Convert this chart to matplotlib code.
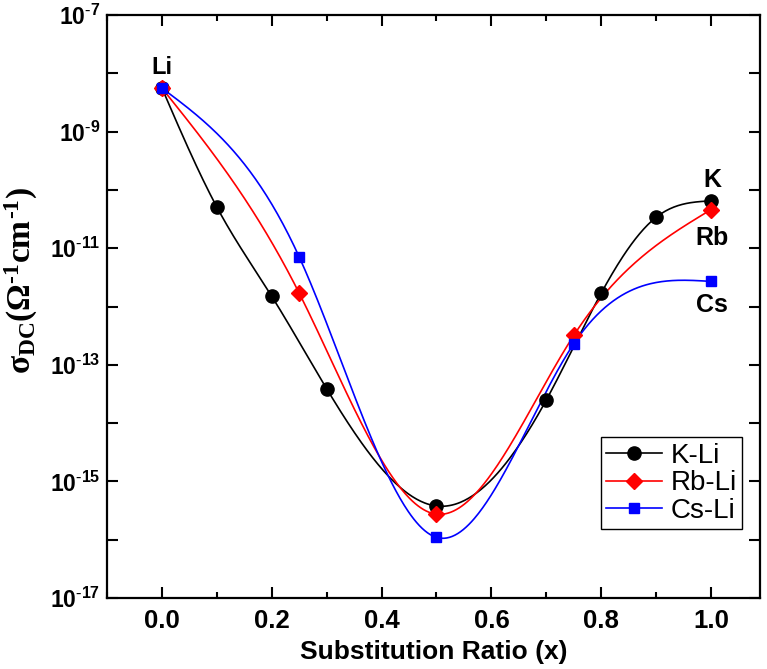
import numpy as np
import matplotlib
matplotlib.use("Agg")
import matplotlib.pyplot as plt
from matplotlib.ticker import FixedLocator, MultipleLocator

plt.rcParams['font.family'] = ['Liberation Sans', 'DejaVu Sans']
plt.rcParams['mathtext.fontset'] = 'custom'
plt.rcParams['mathtext.rm'] = 'Liberation Serif:bold'
plt.rcParams['mathtext.it'] = 'Liberation Serif:bold'
plt.rcParams['mathtext.bf'] = 'Liberation Serif:bold'
plt.rcParams['mathtext.sf'] = 'Liberation Sans:bold'

# Data (sigma_DC, Ohm^-1 cm^-1)
x_k = [0.0, 0.1, 0.2, 0.3, 0.5, 0.7, 0.8, 0.9, 1.0]
y_k = [5.6e-9, 5.1e-11, 1.5e-12, 3.9e-14, 3.8e-16, 2.5e-14, 1.7e-12, 3.4e-11, 6.5e-11]
x_rb = [0.0, 0.25, 0.5, 0.75, 1.0]
y_rb = [5.6e-9, 1.7e-12, 2.75e-16, 3.2e-13, 4.6e-11]
x_cs = [0.0, 0.25, 0.5, 0.75, 1.0]
y_cs = [5.6e-9, 7.1e-12, 1.1e-16, 2.3e-13, 2.7e-12]

series_names = ['K-Li', 'Rb-Li', 'Cs-Li']
end_labels = ['K', 'Rb', 'Cs']
xticks = [0.0, 0.2, 0.4, 0.6, 0.8, 1.0]
ytick_exps = list(range(-17, -6))


def natural_spline(x, y, xs):
    x = np.asarray(x, float); y = np.asarray(y, float)
    n = len(x)
    h = np.diff(x)
    A = np.zeros((n, n)); b = np.zeros(n)
    A[0, 0] = 1; A[-1, -1] = 1
    for i in range(1, n - 1):
        A[i, i - 1] = h[i - 1]
        A[i, i] = 2 * (h[i - 1] + h[i])
        A[i, i + 1] = h[i]
        b[i] = 6 * ((y[i + 1] - y[i]) / h[i] - (y[i] - y[i - 1]) / h[i - 1])
    M = np.linalg.solve(A, b)
    out = np.empty_like(xs)
    for j, t in enumerate(xs):
        i = min(max(np.searchsorted(x, t) - 1, 0), n - 2)
        dx1 = x[i + 1] - t; dx0 = t - x[i]
        out[j] = (M[i] * dx1 ** 3 + M[i + 1] * dx0 ** 3) / (6 * h[i]) \
            + (y[i] / h[i] - M[i] * h[i] / 6) * dx1 \
            + (y[i + 1] / h[i] - M[i + 1] * h[i] / 6) * dx0
    return out


fig = plt.figure(figsize=(7.67, 6.69), dpi=100)
ax = fig.add_axes([0.1395, 0.106, 0.852, 0.8715])

styles = [dict(color='black', marker='o', ms=9.5),
          dict(color='#ff0000', marker='D', ms=8),
          dict(color='#0000ff', marker='s', ms=7.5)]
data = [(x_k, y_k), (x_rb, y_rb), (x_cs, y_cs)]

for (xs_, ys_), st, name in zip(data, styles, series_names):
    xf = np.linspace(xs_[0], xs_[-1], 400)
    yf = 10 ** natural_spline(xs_, np.log10(ys_), xf)
    ax.plot(xf, yf, color=st['color'], lw=1.2, zorder=2)
    ax.plot(xs_, ys_, linestyle='none', marker=st['marker'], ms=st['ms'],
            color=st['color'], zorder=3)
    # legend proxy
    ax.plot([], [], color=st['color'], lw=1.2, marker=st['marker'], ms=st['ms'], label=name)

ax.set_yscale('log')
ax.set_xlim(-0.1, 1.09)
ax.set_ylim(1e-17, 1e-7)

ax.xaxis.set_major_locator(FixedLocator(xticks))
ax.xaxis.set_minor_locator(MultipleLocator(0.1))
ax.set_xticklabels(['%.1f' % v for v in xticks], fontsize=18.5, fontweight='bold')

ax.yaxis.set_major_locator(FixedLocator([10.0 ** e for e in ytick_exps]))
ax.yaxis.set_minor_locator(FixedLocator([]))
ax.set_yticklabels([(r'$\mathsf{10^{\text{-}%d}}$' % -e) if e % 2 else '' for e in ytick_exps],
                   fontsize=16.5)

ax.tick_params(which='both', direction='in', top=True, right=True, width=1.5)
ax.tick_params(which='major', length=8)
ax.tick_params(axis='x', which='major', pad=8)
ax.tick_params(axis='y', which='major', pad=5)
ax.tick_params(axis='x', which='minor', length=4.5)
for s in ax.spines.values():
    s.set_linewidth(1.6)

ax.set_xlabel('Substitution Ratio (x)', fontsize=19, fontweight='bold', labelpad=5)
ax.set_ylabel(r'$\sigma_{\mathrm{DC}}(\Omega^{\text{-}1}cm^{\text{-}1})$', fontsize=24)
ax.yaxis.set_label_coords(-0.102, 0.545)

# annotations
ax.annotate('Li', xy=(x_k[0], y_k[0]), xytext=(0, 21), textcoords='offset pixels',
            ha='center', va='center', fontsize=17, fontweight='bold')
offsets = [21, -28, -24]
for (xs_, ys_), lab, off in zip(data, end_labels, offsets):
    ax.annotate(lab, xy=(xs_[-1], ys_[-1]), xytext=(1, off), textcoords='offset pixels',
                ha='center', va='center', fontsize=18, fontweight='bold')

leg = ax.legend(loc='lower right', bbox_to_anchor=(0.972, 0.118), borderaxespad=0,
                fontsize=20, fancybox=False, edgecolor='black', framealpha=1,
                handlelength=2.0, handletextpad=0.3, labelspacing=0.05, borderpad=0.2)
leg.get_frame().set_linewidth(1.0)

fig.savefig('out.png', dpi=100)
